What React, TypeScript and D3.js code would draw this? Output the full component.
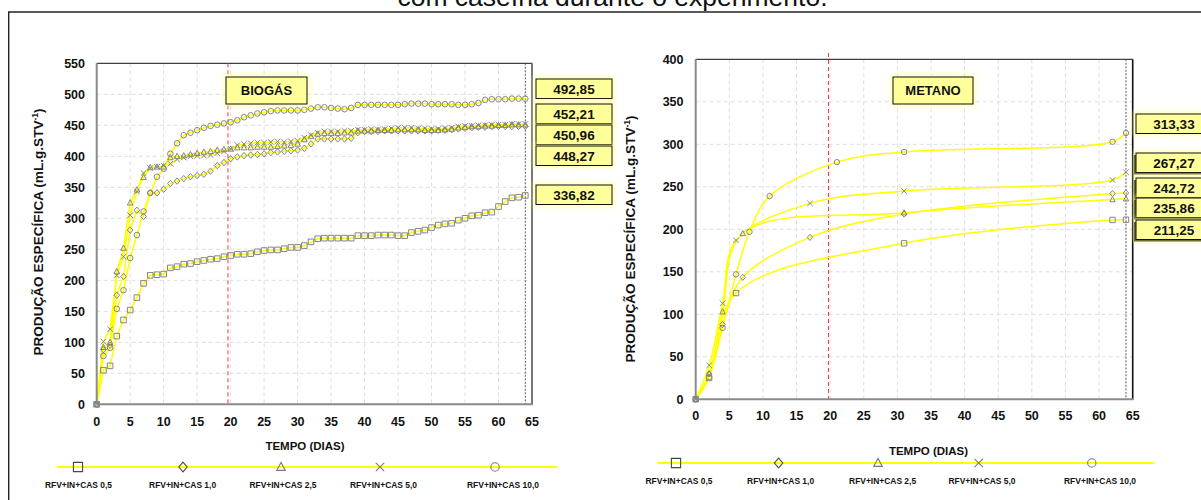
import React from 'react';
import * as d3 from 'd3';

// Series names and marker shapes (shared by both panels)
const SERIES_NAMES = ['RFV+IN+CAS 0,5', 'RFV+IN+CAS 1,0', 'RFV+IN+CAS 2,5', 'RFV+IN+CAS 5,0', 'RFV+IN+CAS 10,0'];
const SHAPES = ['square', 'diamond', 'triangle', 'x', 'circle'];

// Biogas: daily readings, days 0..64
const BIO_DAYS = d3.range(0, 65);
const BIO_CAS_05 = [0, 55, 62, 110, 136, 152, 172, 195, 208, 209, 210, 220, 222, 226, 227, 230, 232, 234, 235, 238, 240, 242, 242, 243, 246, 248, 249, 249, 251, 253, 253, 256, 262, 267, 268, 268, 268, 268, 268, 272, 272, 272, 273, 273, 273, 272, 272, 277, 279, 281, 285, 289, 291, 292, 297, 300, 304, 305, 309, 310, 319, 327, 333, 334, 336.82];
const BIO_CAS_10 = [0, 88, 95, 176, 206, 281, 313, 303, 341, 341, 347, 356, 360, 364, 367, 369, 371, 376, 385, 390, 396, 399, 401, 402, 403, 404, 406, 407, 408, 409, 410, 413, 420, 428, 428, 428, 428, 428, 429, 438, 440, 440, 440, 441, 441, 441, 441, 441, 441, 441, 441, 442, 442, 443, 444, 445, 446, 447, 447, 448, 448, 448, 448, 448, 448.27];
const BIO_CAS_25 = [0, 92, 100, 214, 252, 325, 346, 366, 382, 383, 383, 398, 400, 401, 403, 405, 407, 408, 410, 411, 412, 414, 414, 414, 415, 415, 415, 416, 417, 418, 420, 427, 432, 436, 437, 437, 437, 438, 438, 441, 441, 441, 442, 442, 442, 443, 443, 443, 443, 442, 442, 442, 443, 444, 446, 447, 448, 448, 449, 449, 450, 450, 451, 451, 450.96];
const BIO_CAS_50 = [0, 101, 121, 208, 238, 305, 343, 373, 381, 383, 385, 388, 395, 398, 400, 401, 401, 402, 405, 408, 412, 418, 420, 421, 422, 422, 423, 424, 423, 424, 425, 430, 434, 438, 440, 440, 440, 441, 441, 443, 443, 444, 443, 444, 445, 446, 446, 446, 445, 445, 444, 444, 445, 446, 448, 449, 449, 450, 450, 451, 451, 451, 452, 452, 452.21];
const BIO_CAS_100 = [0, 78, 91, 154, 184, 236, 273, 311, 341, 367, 380, 404, 421, 434, 438, 442, 446, 449, 451, 453, 455, 458, 463, 466, 469, 471, 473, 474, 474, 474, 474, 475, 477, 479, 479, 478, 477, 476, 478, 483, 483, 483, 483, 483, 483, 483, 484, 485, 485, 485, 484, 484, 484, 484, 483, 483, 484, 486, 491, 492, 492, 492, 493, 493, 492.85];

// Methane: sparse readings per series
const CH4_DAYS_05 = [0, 2, 6, 31, 62, 64];
const CH4_CAS_05 = [0, 25, 125, 183.5, 211, 211.25];
const CH4_DAYS_10 = [0, 2, 4, 7, 17, 31, 62, 64];
const CH4_CAS_10 = [0, 30, 88, 143.5, 190.5, 218, 242, 242.72];
const CH4_DAYS_25 = [0, 2, 4, 7, 31, 62, 64];
const CH4_CAS_25 = [0, 30, 103, 195, 219.5, 235, 235.86];
const CH4_DAYS_50 = [0, 2, 4, 6, 17, 31, 62, 64];
const CH4_CAS_50 = [0, 40, 113, 187, 230.5, 245, 258, 267.27];
const CH4_DAYS_100 = [0, 2, 4, 6, 8, 11, 21, 31, 62, 64];
const CH4_CAS_100 = [0, 26, 84, 147, 197, 239, 279, 291, 303, 313.33];

const X_TICKS = d3.range(0, 66, 5);
const FONT = "'Liberation Sans', Arial, Helvetica, sans-serif";
const YELLOW = '#ffff00';
const MARK = '#858585';
const BOX_FILL = '#ffff99';

type Pt = { d: number; v: number };

const fmt = (v: number) => d3.format('.2f')(v).replace('.', ',');

function markerPath(shape: string, r: number): string {
  switch (shape) {
    case 'square':
      return `M${-r},${-r}h${2 * r}v${2 * r}h${-2 * r}Z`;
    case 'diamond':
      return `M0,${-r * 1.15}L${r},0L0,${r * 1.15}L${-r},0Z`;
    case 'triangle':
      return `M0,${-r * 1.1}L${r},${r * 0.8}L${-r},${r * 0.8}Z`;
    case 'x':
      return `M${-r},${-r}L${r},${r}M${r},${-r}L${-r},${r}`;
    default:
      return d3.arc()({ innerRadius: 0, outerRadius: r, startAngle: 0, endAngle: 2 * Math.PI }) as string;
  }
}

function Marker({ shape, x, y, r, stroke, sw = 1 }: { shape: string; x: number; y: number; r: number; stroke: string; sw?: number }) {
  return <path d={markerPath(shape, r)} transform={`translate(${x},${y})`} fill="none" stroke={stroke} strokeWidth={sw} />;
}

function GlowBox({ x, y, w, h, text, size, shadow }: { x: number; y: number; w: number; h: number; text: string; size: number; shadow?: boolean }) {
  return (
    <g>
      <rect x={x - 3} y={y - 3} width={w + 6} height={h + 6} fill="#ffff80" opacity={0.45} filter="url(#soft)" />
      {shadow && <rect x={x - 2} y={y + 2} width={w} height={h} fill="#6b6b3a" />}
      <rect x={x} y={y} width={w} height={h} fill={BOX_FILL} stroke="#111" strokeWidth={1} />
      <text x={x + w / 2} y={y + h / 2} dy="0.36em" textAnchor="middle" fontSize={size} fontWeight="bold" fill="#111">{text}</text>
    </g>
  );
}

type Panel = {
  x0: number; x1: number; yBottom: number; yTop: number; yMax: number;
  refDay: number; redTop: number; series: Pt[][]; curve: d3.CurveFactory;
  markR: number; yLabelX: number; xLabelY: number; rightColor: string;
};

function ChartPanel({ p }: { p: Panel }) {
  const x = d3.scaleLinear().domain([0, 65]).range([p.x0, p.x1]);
  const y = d3.scaleLinear().domain([0, p.yMax]).range([p.yBottom, p.yTop]);
  const line = d3.line<Pt>().x(q => x(q.d)).y(q => y(q.v)).curve(p.curve);
  const yTicks = d3.range(0, p.yMax + 1, 50);
  return (
    <g>
      {/* grid */}
      {X_TICKS.filter(t => t > 0 && t < 65).map(t => (
        <line key={'gx' + t} x1={x(t)} x2={x(t)} y1={p.yTop} y2={p.yBottom} stroke="#dedede" strokeDasharray="4,3" />
      ))}
      {yTicks.filter(t => t > 0 && t < p.yMax).map(t => (
        <line key={'gy' + t} x1={p.x0} x2={p.x1} y1={y(t)} y2={y(t)} stroke="#dedede" strokeDasharray="4,3" />
      ))}
      {/* frame */}
      <line x1={p.x0} x2={p.x1} y1={p.yTop} y2={p.yTop} stroke="#111" strokeWidth={1} />
      <line x1={p.x1} x2={p.x1} y1={p.yTop} y2={p.yBottom} stroke={p.rightColor} strokeWidth={1.6} />
      {/* reference lines */}
      <line x1={x(p.refDay)} x2={x(p.refDay)} y1={p.redTop} y2={p.yBottom} stroke="#e8393c" strokeDasharray="4,3" strokeWidth={1} />
      <line x1={x(64)} x2={x(64)} y1={p.yTop} y2={p.yBottom} stroke="#444" strokeDasharray="2,1.5" strokeWidth={0.9} />
      {/* curves */}
      {p.series.map((s, i) => (
        <path key={'l' + i} d={line(s) as string} fill="none" stroke={YELLOW} strokeWidth={1.5} />
      ))}
      {/* markers */}
      {p.series.map((s, i) => (
        <g key={'m' + i}>
          {s.map((q, j) => (
            <Marker key={j} shape={SHAPES[i]} x={x(q.d)} y={y(q.v)} r={p.markR} stroke={MARK} />
          ))}
        </g>
      ))}
      {/* axes */}
      <line x1={p.x0} x2={p.x0} y1={p.yTop} y2={p.yBottom + 1} stroke="#8a8a8a" strokeWidth={2} />
      <line x1={p.x0} x2={p.x1 + 1} y1={p.yBottom} y2={p.yBottom} stroke="#8a8a8a" strokeWidth={2} />
      {yTicks.map(t => (
        <text key={'yl' + t} x={p.yLabelX} y={y(t)} dy="0.36em" textAnchor="end" fontSize={12.5} fontWeight="bold" fill="#111">{t}</text>
      ))}
      {X_TICKS.map(t => (
        <text key={'xl' + t} x={x(t)} y={p.xLabelY} textAnchor="middle" fontSize={12.5} fontWeight="bold" fill="#111">{t}</text>
      ))}
    </g>
  );
}

function Legend({ lineX: [a, b], lineY, markX, labelX, labelY }: { lineX: number[]; lineY: number; markX: number[]; labelX: number[]; labelY: number }) {
  return (
    <g>
      <line x1={a} x2={b} y1={lineY} y2={lineY} stroke={YELLOW} strokeWidth={2} />
      {SHAPES.map((s, i) => (
        <Marker key={s} shape={s} x={markX[i]} y={lineY} r={s === 'square' ? 4.6 : 4.2} stroke={i < 2 ? '#3f5128' : '#7a7a7a'} sw={1.1} />
      ))}
      {SERIES_NAMES.map((n, i) => (
        <text key={n} x={labelX[i]} y={labelY} textAnchor="middle" fontSize={8.5} fontWeight="bold" fill="#111"
          textLength={i === 4 ? 72 : 67} lengthAdjust="spacingAndGlyphs">{n}</text>
      ))}
    </g>
  );
}

function YTitle({ x, y }: { x: number; y: number }) {
  return (
    <text transform={`translate(${x},${y}) rotate(-90)`} textAnchor="middle" fontSize={13.6} fontWeight="bold" fill="#111">
      PRODUÇÃO ESPECÍFICA (mL.g.STV<tspan fontSize={8.5} dy={-5}>-1</tspan><tspan dy={5}>)</tspan>
    </text>
  );
}

export default function App() {
  const bioVals = [BIO_CAS_05, BIO_CAS_10, BIO_CAS_25, BIO_CAS_50, BIO_CAS_100];
  const bioSeries: Pt[][] = bioVals.map(vals => vals.map((v, i) => ({ d: BIO_DAYS[i], v })));
  const ch4Days = [CH4_DAYS_05, CH4_DAYS_10, CH4_DAYS_25, CH4_DAYS_50, CH4_DAYS_100];
  const ch4Vals = [CH4_CAS_05, CH4_CAS_10, CH4_CAS_25, CH4_CAS_50, CH4_CAS_100];
  const ch4Series: Pt[][] = ch4Vals.map((vals, k) => vals.map((v, i) => ({ d: ch4Days[k][i], v })));

  const left: Panel = {
    x0: 96.7, x1: 532, yBottom: 404.3, yTop: 63.3, yMax: 550, refDay: 19.6, redTop: 63.3,
    series: bioSeries, curve: d3.curveLinear, markR: 2.8, yLabelX: 85, xLabelY: 426, rightColor: '#555',
  };
  const right: Panel = {
    x0: 695.7, x1: 1132.7, yBottom: 399.3, yTop: 59.3, yMax: 400, refDay: 19.75, redTop: 53,
    series: ch4Series, curve: d3.curveCatmullRom.alpha(0.5), markR: 2.7, yLabelX: 683.5, xLabelY: 420, rightColor: '#111',
  };

  const last = (s: number[]) => s[s.length - 1];
  // end-value boxes: [series index, top y]
  const bioBoxes: [number, number][] = [[4, 79], [3, 104], [2, 125], [1, 146], [0, 185]];
  const ch4Boxes: [number, number][] = [[4, 114], [3, 153], [1, 178], [2, 198], [0, 220]];

  return (
    <svg width={1201} height={500} style={{ position: 'absolute', left: 0, top: 0, background: '#fff' }} fontFamily={FONT}>
      <defs>
        <filter id="soft" x="-20%" y="-40%" width="140%" height="180%">
          <feGaussianBlur stdDeviation={2} />
        </filter>
      </defs>
      <rect width={1201} height={500} fill="#fff" />
      <text x={612.5} y={6} textAnchor="middle" fontSize={26.5} fill="#111">com caseína durante o experimento.</text>
      <line x1={8} x2={1201} y1={12} y2={12} stroke="#222" strokeWidth={1.4} />
      <line x1={8.7} x2={8.7} y1={12} y2={500} stroke="#222" strokeWidth={1.4} />

      <ChartPanel p={left} />
      <ChartPanel p={right} />

      <GlowBox x={226} y={77} w={81} h={27} text="BIOGÁS" size={13} />
      <GlowBox x={893} y={77} w={80} h={27} text="METANO" size={13} />

      {bioBoxes.map(([k, top]) => (
        <GlowBox key={'bb' + k} x={536} y={top} w={76} h={19.5} text={fmt(last(bioVals[k]))} size={13.5} />
      ))}
      {ch4Boxes.map(([k, top]) => (
        <GlowBox key={'cb' + k} x={1136} y={top} w={76} h={19.5} text={fmt(last(ch4Vals[k]))} size={13.5} shadow={k !== 4} />
      ))}

      <YTitle x={43} y={232} />
      <YTitle x={635} y={239} />

      <text x={305} y={450} textAnchor="middle" fontSize={11.5} fontWeight="bold" fill="#111">TEMPO (DIAS)</text>
      <text x={928.5} y={455} textAnchor="middle" fontSize={11.5} fontWeight="bold" fill="#111">TEMPO (DIAS)</text>

      <Legend lineX={[57, 557]} lineY={467} markX={[78, 183, 281, 380, 495]} labelX={[78.5, 182.6, 283, 383.5, 503]} labelY={488} />
      <Legend lineX={[657.5, 1154.6]} lineY={463} markX={[676, 778.6, 878, 978.7, 1091.8]} labelX={[679, 780.6, 882.6, 982, 1100]} labelY={484} />
    </svg>
  );
}
